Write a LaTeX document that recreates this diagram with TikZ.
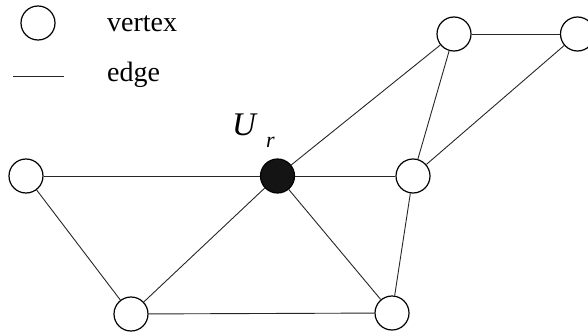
\documentclass[tikz,border=0pt]{standalone}
\usepackage{fontspec}
\setmainfont{Liberation Serif}
\begin{document}
\begin{tikzpicture}[x=1pt,y=-1pt,
  vtx/.style={circle,draw,line width=1.2pt,minimum size=34pt,inner sep=0pt,fill=white},
  hub/.style={vtx,fill=black!92},
  edg/.style={line width=0.9pt,black!85},
  lbl/.style={anchor=base west,inner sep=0pt,font=\fontsize{28}{30}\selectfont}]
\useasboundingbox (0,0) rectangle (588,334);
% legend
\node[vtx] (lv) at (38,23) {};
\node[lbl] (lvt) at (107,32) {vertex};
\coordinate (le1) at (13,76);
\coordinate (le2) at (64,76);
\draw[edg] (le1) -- (le2);
\node[lbl] (let) at (107,82) {edge};
% vertices
\node[vtx] (L) at (26,176) {};
\node[hub] (U) at (277.5,176) {};
\node[vtx] (R) at (413,176) {};
\node[vtx] (BL) at (131,314) {};
\node[vtx] (BR) at (392,313) {};
\node[vtx] (TM) at (454,34) {};
\node[vtx] (TR) at (577.5,34) {};
% label
\node[anchor=base west,inner sep=0pt,font=\fontsize{33}{33}\selectfont\itshape] (ul) at (232,135) {U\hspace{10pt}\raisebox{-12pt}{\fontsize{22}{22}\selectfont r}};
% edges
\draw[edg] (L) -- (U);
\draw[edg] (L) -- (BL);
\draw[edg] (BL) -- (U);
\draw[edg] (BL) -- (BR);
\draw[edg] (U) -- (BR);
\draw[edg] (U) -- (R);
\draw[edg] (U) -- (TM);
\draw[edg] (R) -- (TM);
\draw[edg] (R) -- (TR);
\draw[edg] (R) -- (BR);
\draw[edg] (TM) -- (TR);
\end{tikzpicture}
\end{document}
